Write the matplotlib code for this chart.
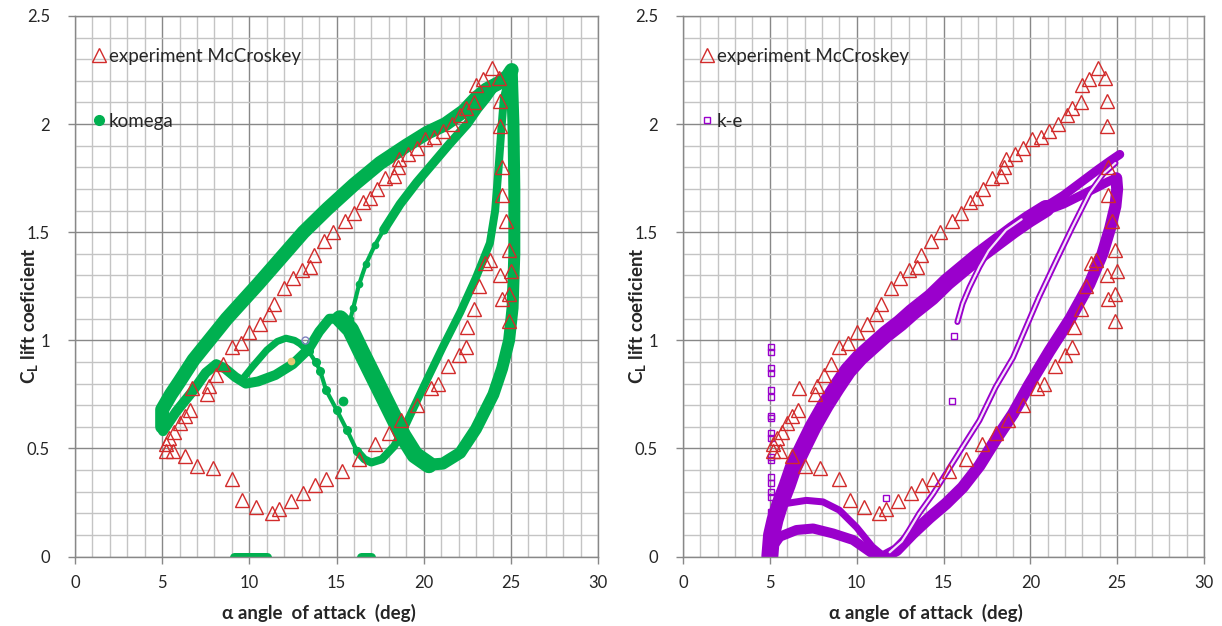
import matplotlib
matplotlib.use("Agg")
import matplotlib.pyplot as plt
from matplotlib.ticker import MultipleLocator
from matplotlib.lines import Line2D

plt.rcParams['font.family'] = ['Lato', 'DejaVu Sans']
plt.rcParams['mathtext.fontset'] = 'custom'
plt.rcParams['mathtext.bf'] = 'Lato:bold'
plt.rcParams['mathtext.rm'] = 'Lato:bold'

# ---------------- data ----------------
# experiment McCroskey (alpha, CL)
exp_alpha = [5.2, 5.4, 5.7, 6.0, 6.3, 6.6, 6.7, 7.6, 7.7, 8.1, 8.5, 9.0, 9.5, 10.0, 10.6, 11.1,
             11.4, 12.0, 12.5, 13.0, 13.5, 13.7, 14.3, 14.8, 15.5, 16.0, 16.5, 16.9, 17.3, 17.8,
             18.3, 18.5, 18.6, 19.1, 19.6, 20.1, 20.6, 21.1, 21.6, 22.1, 22.4, 22.9, 23.0, 23.4,
             23.9, 24.3, 24.4, 24.4, 24.5, 24.5, 24.7, 24.9, 25.0, 24.9, 24.9, 23.5, 23.8, 24.4,
             24.5, 23.2, 22.9, 22.5, 22.4, 22.0, 21.4, 20.8, 20.4, 19.6, 18.7, 18.0, 17.2, 16.3,
             15.3, 14.4, 13.75, 13.1, 12.4, 11.7, 11.3, 10.4, 9.6, 9.0, 7.9, 7.0, 6.3, 5.6, 5.2]
exp_cl = [0.52, 0.55, 0.575, 0.62, 0.65, 0.68, 0.78, 0.75, 0.79, 0.84, 0.89, 0.97, 0.99, 1.04, 1.075, 1.12,
          1.17, 1.24, 1.29, 1.325, 1.34, 1.395, 1.46, 1.50, 1.55, 1.59, 1.64, 1.66, 1.70, 1.75,
          1.76, 1.80, 1.84, 1.86, 1.89, 1.93, 1.94, 1.97, 2.00, 2.04, 2.075, 2.10, 2.18, 2.21,
          2.26, 2.215, 2.105, 1.99, 1.80, 1.67, 1.55, 1.42, 1.32, 1.215, 1.09, 1.36, 1.37, 1.30,
          1.19, 1.25, 1.145, 1.06, 0.97, 0.93, 0.88, 0.80, 0.78, 0.70, 0.63, 0.57, 0.52, 0.45,
          0.395, 0.36, 0.33, 0.295, 0.255, 0.22, 0.20, 0.23, 0.26, 0.36, 0.41, 0.42, 0.465, 0.49, 0.49]

# komega curves
ko_upper_alpha = [5.0, 5.0, 5.5, 6.0, 6.8, 7.7, 8.7, 9.6, 10.5, 11.8, 13.1, 14.5, 16.0, 17.5, 19.0,
                  20.2, 21.25, 22.3, 23.0, 23.6, 24.3, 24.8, 25.05]
ko_upper_cl = [0.60, 0.68, 0.75, 0.81, 0.91, 1.00, 1.10, 1.18, 1.26, 1.38, 1.50, 1.61, 1.72, 1.82, 1.90,
               1.96, 2.00, 2.06, 2.12, 2.16, 2.19, 2.22, 2.25]
ko_right_alpha = [25.05, 25.15, 25.2, 25.2, 25.1, 24.9, 24.5, 24.0, 23.0, 22.1, 21.1, 20.3]
ko_right_cl = [2.25, 2.0, 1.7, 1.4, 1.15, 1.0, 0.87, 0.75, 0.59, 0.48, 0.43, 0.425]
ko_vleft_alpha = [20.3, 19.5, 18.8, 18.0, 17.2, 16.4, 15.8, 15.2]
ko_vleft_cl = [0.425, 0.47, 0.56, 0.69, 0.82, 0.95, 1.05, 1.10]
ko_lower_alpha = [15.2, 14.6, 14.0, 13.4, 12.5, 11.5, 10.5, 9.8, 9.2, 8.6, 8.1, 7.5, 6.8, 5.8, 5.05]
ko_lower_cl = [1.10, 1.10, 1.04, 0.96, 0.89, 0.84, 0.81, 0.80, 0.83, 0.87, 0.89, 0.85, 0.77, 0.67, 0.58]
ko_bump_alpha = [9.6, 10.2, 11.0, 11.6, 12.1, 12.6, 12.9, 13.4]
ko_bump_cl = [0.82, 0.88, 0.955, 0.995, 1.01, 1.00, 0.985, 0.95]
ko_drop_alpha = [13.4, 13.8, 14.06, 14.4, 15.0, 15.6, 16.16]
ko_drop_cl = [0.95, 0.90, 0.86, 0.77, 0.68, 0.585, 0.49]
ko_rise_alpha = [16.16, 16.6, 17.0, 17.6, 18.3, 18.8, 19.2, 20.2, 21.1, 22.1, 23.0, 23.8, 24.1, 24.3,
                 24.45, 24.6, 25.0]
ko_rise_cl = [0.49, 0.45, 0.435, 0.45, 0.51, 0.58, 0.65, 0.82, 0.97, 1.13, 1.29, 1.45, 1.6, 1.8,
              1.97, 2.12, 2.25]
ko_inner_alpha = [15.8, 15.96, 16.3, 16.7, 17.2, 17.7, 18.65, 19.6, 20.55, 21.5, 22.5, 23.1, 23.6, 24.3]
ko_inner_cl = [1.10, 1.15, 1.26, 1.355, 1.44, 1.51, 1.63, 1.73, 1.82, 1.91, 2.0, 2.07, 2.12, 2.2]
ko_zero_a_alpha = [9.1, 11.0]
ko_zero_b_alpha = [16.4, 17.0]
ko_zero_cl = [0.0, 0.0]
ko_single_alpha = [15.4]
ko_single_cl = [0.72]
odd_yellow = (12.4, 0.905)
odd_blue = (13.2, 1.0)

# k-e curves
ke_up_alpha = [5.0, 5.1, 5.3, 5.57, 6.0, 6.34, 7.0, 7.49, 8.2, 8.83, 9.5, 10.17, 11.0, 11.7, 12.5,
               13.2, 14.3, 15.2, 16.1, 17.0, 18.0, 19.0, 19.9, 20.9]
ke_up_cl = [0.0, 0.1, 0.17, 0.24, 0.33, 0.41, 0.52, 0.60, 0.70, 0.78, 0.86, 0.92, 0.98, 1.03, 1.08,
            1.13, 1.20, 1.27, 1.33, 1.39, 1.45, 1.51, 1.56, 1.61]
ke_tipa_alpha = [20.9, 21.9, 22.9, 23.9, 24.6, 25.15]
ke_tipa_cl = [1.62, 1.67, 1.73, 1.79, 1.83, 1.86]
ke_tipb_alpha = [20.9, 21.9, 22.9, 23.9, 24.5, 24.95]
ke_tipb_cl = [1.60, 1.63, 1.67, 1.71, 1.735, 1.75]
ke_right_alpha = [24.95, 25.0, 24.9, 24.6, 24.15, 23.4, 22.3, 21.1, 19.9, 19.0, 18.0, 17.07, 16.1,
                  15.15, 14.2, 13.2, 12.3, 11.6]
ke_right_cl = [1.75, 1.70, 1.62, 1.52, 1.40, 1.26, 1.10, 0.95, 0.79, 0.66, 0.54, 0.42, 0.32,
               0.245, 0.18, 0.105, 0.03, 0.0]
ke_arcA_alpha = [11.6, 10.9, 10.0, 9.0, 8.06, 7.1, 5.96, 5.5, 5.2, 5.05]
ke_arcA_cl = [0.0, 0.046, 0.135, 0.215, 0.253, 0.26, 0.246, 0.23, 0.2, 0.15]
ke_arcB_alpha = [11.6, 10.9, 9.79, 8.64, 7.49, 6.53, 5.57, 5.2, 5.0]
ke_arcB_cl = [0.0, 0.015, 0.077, 0.107, 0.13, 0.123, 0.092, 0.05, 0.017]
ke_thin1_alpha = [11.9, 12.6, 13.0, 13.6, 14.4, 15.15, 16.1, 17.07, 18.0, 19.0, 19.75, 20.5, 21.5,
                  22.4, 23.4, 24.2, 24.9]
ke_thin1_cl = [0.02, 0.07, 0.12, 0.2, 0.29, 0.385, 0.507, 0.63, 0.784, 0.92, 1.06, 1.2, 1.37,
               1.52, 1.68, 1.77, 1.82]
ke_thin2_alpha = [15.8, 16.1, 16.5, 17.07, 17.6, 18.6, 19.5]
ke_thin2_cl = [1.085, 1.17, 1.246, 1.34, 1.415, 1.51, 1.56]
ke_single_alpha = [15.6, 15.5, 11.7]
ke_single_cl = [1.02, 0.72, 0.27]
ke_col_cl = [0.97, 0.945, 0.87, 0.85, 0.77, 0.74, 0.65, 0.64, 0.57, 0.55, 0.46, 0.445,
             0.37, 0.34, 0.30, 0.275, 0.206]
ke_col_alpha = [5.05] * len(ke_col_cl)

x_ticks = [0, 5, 10, 15, 20, 25, 30]
y_ticks = [0, 0.5, 1, 1.5, 2, 2.5]
y_ticklabels = ['0', '0.5', '1', '1.5', '2', '2.5']

# ---------------- style ----------------
GREEN = '#00B050'
PURPLE = '#9A00CC'
RED = '#D22B2B'
MAJ = '#888888'
MIN = '#C4C4C4'
TXT = '#262626'

fig = plt.figure(figsize=(12.22, 6.26), dpi=100)
H = 626.0
W = 1222.0
bottom = (H - 556.6) / H
height = 540.6 / H
axL = fig.add_axes([75 / W, bottom, 523 / W, height])
axR = fig.add_axes([683 / W, bottom, 521 / W, height])


def style(ax):
    ax.set_xlim(0, 30)
    ax.set_ylim(0, 2.5)
    ax.xaxis.set_major_locator(MultipleLocator(5))
    ax.xaxis.set_minor_locator(MultipleLocator(1))
    ax.yaxis.set_major_locator(MultipleLocator(0.5))
    ax.yaxis.set_minor_locator(MultipleLocator(0.1))
    ax.set_xticks(x_ticks)
    ax.set_yticks(y_ticks)
    ax.set_yticklabels(y_ticklabels)
    ax.grid(which='minor', color=MIN, lw=1.0, zorder=0)
    ax.grid(which='major', color=MAJ, lw=1.0, zorder=0)
    ax.set_axisbelow(True)
    for s in ax.spines.values():
        s.set_color(MAJ)
        s.set_linewidth(1.0)
    ax.tick_params(which='major', direction='out', length=5, color=MAJ, width=1,
                   labelsize=12, labelcolor=TXT)
    ax.tick_params(axis='x', which='major', pad=8)
    ax.tick_params(axis='y', which='major', pad=13)
    ax.tick_params(which='minor', length=0)
    ax.set_xlabel('\u03b1 angle  of attack  (deg)', fontsize=13.5, fontweight='bold', color=TXT)
    ax.xaxis.set_label_coords(0.467, -0.088)
    ax.set_ylabel(r'$\mathbf{C_L}$ lift coeficient', fontsize=13.5, fontweight='bold', color=TXT)
    ax.yaxis.set_label_coords(-0.067, 0.445)


style(axL)
style(axR)

PX = 72.0 / 100.0  # points per pixel


def band(ax, a, c, px, color):
    ax.plot(a, c, color=color, lw=px * PX, solid_capstyle='round', solid_joinstyle='round', zorder=2)


# ----- left panel: komega -----
band(axL, ko_upper_alpha, ko_upper_cl, 14, GREEN)
band(axL, ko_right_alpha, ko_right_cl, 12, GREEN)
band(axL, ko_vleft_alpha, ko_vleft_cl, 17, GREEN)
band(axL, ko_lower_alpha, ko_lower_cl, 10, GREEN)
band(axL, ko_bump_alpha, ko_bump_cl, 7, GREEN)
band(axL, ko_rise_alpha, ko_rise_cl, 8, GREEN)
band(axL, ko_inner_alpha[5:], ko_inner_cl[5:], 9, GREEN)
axL.plot(ko_drop_alpha, ko_drop_cl, color=GREEN, lw=2, ls='none', marker='o', ms=5.5, zorder=2)
axL.plot(ko_drop_alpha, ko_drop_cl, color=GREEN, lw=3, zorder=2)
axL.plot(ko_inner_alpha[:6], ko_inner_cl[:6], color=GREEN, lw=3, marker='o', ms=4.5, zorder=2)
band(axL, ko_zero_a_alpha, ko_zero_cl, 9, GREEN)
band(axL, ko_zero_b_alpha, ko_zero_cl, 9, GREEN)
axL.plot(ko_single_alpha, ko_single_cl, 'o', color=GREEN, ms=6, zorder=2)
axL.plot([odd_yellow[0]], [odd_yellow[1]], 'o', color='#E3C873', ms=4.5, zorder=3)
axL.plot([odd_blue[0]], [odd_blue[1]], 'o', mfc='none', mec='#8080C0', ms=5, mew=1, zorder=3)

# ----- right panel: k-e -----
band(axR, ke_up_alpha, ke_up_cl, 17, PURPLE)
band(axR, ke_tipa_alpha, ke_tipa_cl, 9, PURPLE)
band(axR, ke_tipb_alpha, ke_tipb_cl, 9, PURPLE)
band(axR, ke_right_alpha, ke_right_cl, 12, PURPLE)
band(axR, ke_arcA_alpha, ke_arcA_cl, 7, PURPLE)
band(axR, ke_arcB_alpha, ke_arcB_cl, 10, PURPLE)
for a, c in [(ke_thin1_alpha, ke_thin1_cl), (ke_thin2_alpha, ke_thin2_cl)]:
    axR.plot(a, c, color=PURPLE, lw=6 * PX, solid_capstyle='round', zorder=2)
    axR.plot(a, c, color='white', lw=2.2 * PX, solid_capstyle='round', zorder=2, alpha=0.9)
axR.plot(ke_single_alpha, ke_single_cl, 's', mfc='none', mec=PURPLE, ms=5, mew=1, zorder=2)
axR.plot(ke_col_alpha, ke_col_cl, 's', mfc='none', mec=PURPLE, ms=5, mew=1, zorder=2)

# ----- experiment triangles on both -----
for ax in (axL, axR):
    ax.plot(exp_alpha, exp_cl, '^', mfc='none', mec=RED, ms=9.5, mew=1.0, ls='none', zorder=4)


# ----- legends -----
def legend(ax, label2, handle2):
    h1 = Line2D([], [], marker='^', mfc='none', mec=RED, ms=9.5, mew=1.0, ls='none')
    lg = ax.legend([h1, handle2], ['experiment McCroskey', label2], loc='upper left',
                   bbox_to_anchor=(0.02, 0.955), frameon=False, fontsize=13.5,
                   handlelength=0.6, handletextpad=0.25, labelspacing=2.57, borderaxespad=0)
    for t in lg.get_texts():
        t.set_color(TXT)


legend(axL, 'komega', Line2D([], [], marker='o', color=GREEN, ms=7, ls='none'))
legend(axR, 'k-e', Line2D([], [], marker='s', mfc='none', mec=PURPLE, ms=5, mew=1, ls='none'))

fig.savefig('out.png', dpi=100)
